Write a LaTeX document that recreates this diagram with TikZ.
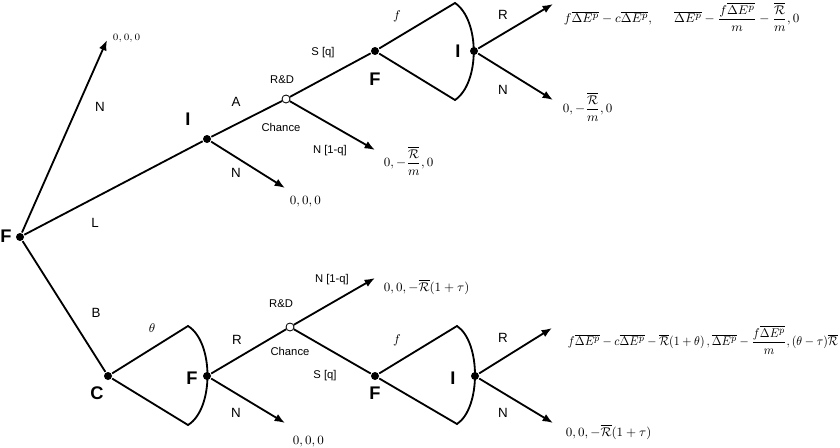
\documentclass[tikz,border=0pt]{standalone}
\usepackage{amsmath}
\usepackage{amssymb}
\usepackage{graphicx}
\usepackage{fontspec}
\setsansfont{Liberation Sans}
\usetikzlibrary{arrows.meta,positioning}

\newcommand{\dEp}{\overline{\Delta E^p}}
\newcommand{\Rbar}{\overline{\mathcal{R}}}

\begin{document}
\begin{tikzpicture}[x=0.025cm, y=-0.025cm, line width=1.3pt,
    decision/.style={circle,inner sep=0pt,minimum size=2mm,fill=black},
    chance/.style={circle,inner sep=0pt,minimum size=2mm,draw=black,fill=white,line width=0.6pt},
    player/.style={font=\sffamily\bfseries\fontsize{13}{15}\selectfont,inner sep=0pt},
    act/.style={font=\sffamily\fontsize{9.5}{11}\selectfont,inner sep=0pt},
    nature/.style={font=\sffamily\fontsize{8}{10}\selectfont,inner sep=0pt},
    payoff/.style={font=\fontsize{9.5}{11}\selectfont,anchor=west,inner sep=0pt},
    move/.style={-{Latex[length=2.6mm,width=2mm]}},
   ]
    \useasboundingbox (0,0) rectangle (840,447);

    % first stage
    \node (rootF) [decision] at (20,237) {};
    \node (lblF)  [player] at (6,236) {F};
    \node (invI)  [decision] at (207,139) {};
    \node (lblI)  [player] at (188,119) {I};
    \node (natC)  [decision] at (108,376) {};
    \node (lblC)  [player] at (97,393) {C};
    \coordinate (endN) at (107,40);
    \node (payN) [payoff,font=\fontsize{7.5}{9}\selectfont] at (112,38) {$0,0,0$};

    \draw[move] (rootF) -- (endN);
    \draw (rootF) -- (invI);
    \draw (rootF) -- (natC);
    \node [act] at (100,107) {N};
    \node [act] at (95,223) {L};
    \node [act] at (96,313) {B};

    % upper branch: investor accepts
    \node (rdA)    [chance] at (286,99) {};
    \node (firmF)  [decision] at (375,51) {};
    \node (invI2)  [decision] at (474,51) {};
    \coordinate (lensAt) at (455,3);
    \coordinate (lensAb) at (455,100);
    \coordinate (endAN)  at (285,188);
    \coordinate (endAF)  at (375,150);
    \coordinate (endAR)  at (553,4);
    \coordinate (endAN2) at (553,100);

    \draw (invI) -- (rdA);
    \draw[move] (invI) -- (endAN);
    \draw (rdA) -- (firmF);
    \draw[move] (rdA) -- (endAF);
    \draw (firmF) -- (lensAt) .. controls (480,20) and (480,83) .. (lensAb) -- (firmF);
    \draw[move] (invI2) -- (endAR);
    \draw[move] (invI2) -- (endAN2);

    \node [act] at (236,102) {A};
    \node [act] at (236,173) {N};
    \node [nature] at (282,80) {R\&D};
    \node [nature] at (281,127) {Chance};
    \node [nature] at (323,53) {S [q]};
    \node [nature] at (330,151) {N [1-q]};
    \node [player] at (375,79) {F};
    \node [act] at (397,16) {$f$};
    \node [player] at (458,51) {I};
    \node [act] at (503,15) {R};
    \node [act] at (503,90) {N};

    \node (payAN)  [payoff] at (289,202) {$0,0,0$};
    \node (payAF)  [payoff] at (383,161) {$0,-\dfrac{\Rbar}{m},0$};
    \node (payAR)  [payoff] at (563,17)
        {$f\dEp-c\dEp,\hspace{1.5em}\dEp-\dfrac{f\dEp}{m}-\dfrac{\Rbar}{m},0$};
    \node (payAN2) [payoff] at (562,107) {$0,-\dfrac{\Rbar}{m},0$};

    % lower branch: certification
    \node (firmF2) [decision] at (207,376) {};
    \node (rdB)    [chance] at (290,327) {};
    \node (firmF3) [decision] at (375,376) {};
    \node (invI3)  [decision] at (475,376) {};
    \coordinate (lensCt) at (188,326);
    \coordinate (lensCb) at (188,425);
    \coordinate (lensBt) at (457,326);
    \coordinate (lensBb) at (457,424);
    \coordinate (endBN)  at (285,423);
    \coordinate (endBF)  at (375,278);
    \coordinate (endBR)  at (552,328);
    \coordinate (endBN2) at (553,423);

    \draw (natC) -- (lensCt) .. controls (214,342) and (214,409) .. (lensCb) -- (natC);
    \draw (firmF2) -- (rdB);
    \draw[move] (firmF2) -- (endBN);
    \draw[move] (rdB) -- (endBF);
    \draw (rdB) -- (firmF3);
    \draw (firmF3) -- (lensBt) .. controls (481,342) and (481,408) .. (lensBb) -- (firmF3);
    \draw[move] (invI3) -- (endBR);
    \draw[move] (invI3) -- (endBN2);

    \node [act] at (152,328) {$\theta$};
    \node [player] at (192,378) {F};
    \node [act] at (237,340) {R};
    \node [act] at (236,413) {N};
    \node [nature] at (281,304) {R\&D};
    \node [nature] at (290,351) {Chance};
    \node [nature] at (332,280) {N [1-q]};
    \node [nature] at (325,376) {S [q]};
    \node [player] at (375,393) {F};
    \node [act] at (397,340) {$f$};
    \node [player] at (453,378) {I};
    \node [act] at (503,338) {R};
    \node [act] at (503,413) {N};

    \node (payBN)  [payoff] at (292,442) {$0,0,0$};
    \node (payBF)  [payoff] at (383,287) {$0,0,-\Rbar(1+\tau)$};
    \node (payBR)  [payoff] at (567,340)
        {\resizebox{6.75cm}{\height}{$f\dEp-c\dEp-\Rbar(1+\theta)\,,\dEp-\dfrac{f\dEp}{m},(\theta-\tau)\Rbar$}};
    \node (payBN2) [payoff] at (565,432) {$0,0,-\Rbar(1+\tau)$};
\end{tikzpicture}
\end{document}
